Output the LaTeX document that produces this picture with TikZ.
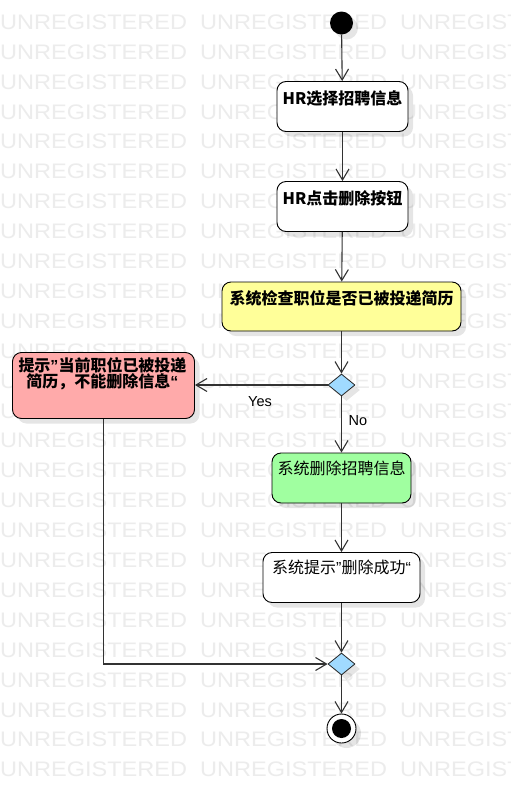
\documentclass[tikz,border=0pt]{standalone}
\usepackage{fontspec}
\setmainfont{Liberation Sans}
\newfontfamily\cjk{Noto Sans CJK SC}
\usetikzlibrary{arrows.meta,shapes.geometric,shadows}

\definecolor{wmgray}{RGB}{236,236,236}
\definecolor{edgegray}{RGB}{50,50,50}
\definecolor{actyellow}{RGB}{255,255,153}
\definecolor{actred}{RGB}{255,170,170}
\definecolor{actgreen}{RGB}{160,255,160}
\definecolor{decblue}{RGB}{160,218,255}

% narrow Latin quotation marks inside Chinese text
\newcommand{\zhrq}{{\rmfamily ”}}
\newcommand{\zhlq}{{\rmfamily “}}

\begin{document}
\begin{tikzpicture}[x=1pt,y=-1pt,
  softshadow/.style={drop shadow={shadow xshift=5pt,shadow yshift=-5pt,opacity=0.10,fill=black}},
  wm/.style={anchor=base west,inner sep=0pt,text=wmgray,font=\fontsize{21}{21}\selectfont},
  act/.style={draw=black,line width=0.9pt,rounded corners=9pt,fill=white,inner sep=0pt,softshadow},
  decision/.style={diamond,draw=black!85,line width=0.8pt,fill=decblue,inner sep=0pt,
    minimum width=27pt,minimum height=22pt,softshadow},
  acttext/.style={inner sep=0pt,align=center,font=\cjk\fontsize{16}{15.7}\selectfont},
  boldtext/.style={acttext,font=\cjk\bfseries\fontsize{16}{15.7}\selectfont},
  guard/.style={inner sep=0pt,font=\fontsize{14.5}{14.5}\selectfont},
  flow/.style={draw=edgegray,line width=1.1pt,-{Straight Barb[length=11pt,width=13pt]}}
]
\useasboundingbox (0,0) rectangle (511,793);
\fill[white] (0,0) rectangle (511,793);

% watermark rows
\begin{scope}
  \clip (0,0) rectangle (511,793);
  \foreach \r in {0,...,25}{
    \foreach \c in {0,1,2}{
      \node[wm] (wm-\r-\c) at ({200*\c},{29.3+29.9*\r}) {\scalebox{1.12}[1]{UNREGISTERED}};
    }
  }
\end{scope}

% initial and final states
\node[circle,fill=black,inner sep=0pt,minimum size=23pt,softshadow] (start) at (341.5,23) {};

\node[act,minimum width=131pt,minimum height=50pt] (b1) at (342.5,106.5) {};
\node[boldtext] (t1) at (342.5,98) {HR选择招聘信息};

\node[act,minimum width=131pt,minimum height=50pt] (b2) at (342.5,206.5) {};
\node[boldtext] (t2) at (342.5,198) {HR点击删除按钮};

\node[act,fill=actyellow,minimum width=239pt,minimum height=49pt] (b3) at (341.5,306.5) {};
\node[boldtext] (t3) at (341.5,298.5) {系统检查职位是否已被投递简历};

\node[decision] (d1) at (341.5,385) {};

\node[act,fill=actred,minimum width=182pt,minimum height=66pt] (red) at (103.5,385.5) {};
\node[boldtext] (tred) at (102.5,374) {提示\zhrq 当前职位已被投递\\简历，不能删除信息\zhlq};

\node[act,fill=actgreen,minimum width=139pt,minimum height=50pt] (green) at (341.5,478) {};
\node[acttext] (tgreen) at (341.5,468) {系统删除招聘信息};

\node[act,minimum width=157pt,minimum height=50pt] (b5) at (341.5,577.5) {};
\node[acttext] (t5) at (341.5,567) {系统提示\zhrq 删除成功\zhlq};

\node[decision] (d2) at (341.5,664) {};

\node[circle,draw=black,line width=0.9pt,fill=white,inner sep=0pt,minimum size=29pt,softshadow] (stop) at (341.5,728.5) {};
\node[circle,fill=black,inner sep=0pt,minimum size=19pt] (stopdot) at (stop.center) {};

% guards
\node[guard] (yes) at (260,402) {Yes};
\node[guard] (no) at (358,421) {No};

% control flow
\draw[flow] (start) -- (b1);
\draw[flow] (b1) -- (b2);
\draw[flow] (b2) -- (b3);
\draw[flow] (b3) -- (d1);
\draw[flow] (d1.west) -- (d1.west -| red.east);
\draw[flow] (d1) -- (green);
\draw[flow] (green) -- (b5);
\draw[flow] (b5) -- (d2);
\draw[flow] (red.south) |- (d2.west);
\draw[flow] (d2) -- (stop);
\end{tikzpicture}
\end{document}
